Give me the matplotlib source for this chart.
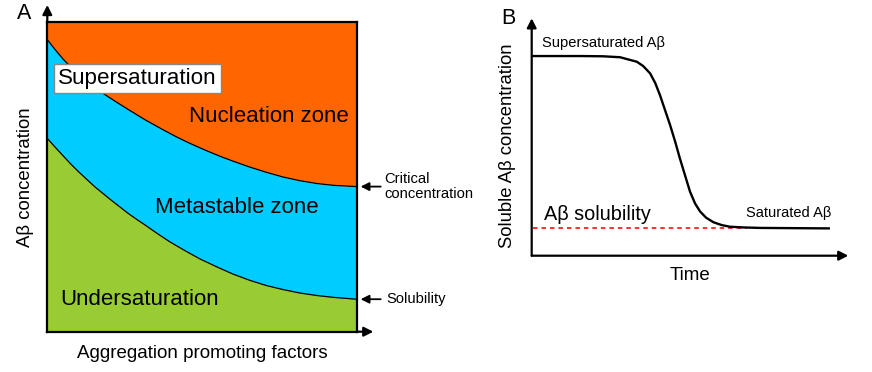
import matplotlib
matplotlib.use("Agg")
import matplotlib.pyplot as plt

plt.rcParams['font.family'] = ['Liberation Sans', 'DejaVu Sans']

W, H = 872, 372

# Panel A: boundary curves (normalised axis units)
crit_x = [0.0, 0.025, 0.052, 0.106, 0.176, 0.219, 0.262, 0.316, 0.370, 0.413, 0.456,
          0.510, 0.556, 0.601, 0.655, 0.709, 0.762, 0.817, 0.871, 0.925, 1.0]
crit_y = [0.944, 0.912, 0.880, 0.825, 0.773, 0.745, 0.718, 0.685, 0.655, 0.632, 0.611,
          0.587, 0.568, 0.551, 0.532, 0.515, 0.500, 0.488, 0.479, 0.473, 0.469]
sol_x = [0.0, 0.023, 0.047, 0.073, 0.100, 0.127, 0.154, 0.181, 0.208, 0.235, 0.262, 0.289,
         0.316, 0.356, 0.397, 0.445, 0.494, 0.547, 0.601, 0.655, 0.709, 0.763, 0.817,
         0.871, 0.925, 1.0]
sol_y = [0.625, 0.599, 0.573, 0.545, 0.518, 0.493, 0.468, 0.446, 0.424, 0.403, 0.382, 0.363,
         0.345, 0.317, 0.290, 0.262, 0.235, 0.210, 0.186, 0.166, 0.149, 0.136, 0.125,
         0.117, 0.111, 0.105]

# Panel B: soluble Abeta over time
time_x = [0.0, 0.153, 0.225, 0.279, 0.332, 0.352, 0.374, 0.390, 0.405, 0.421, 0.437, 0.453,
          0.468, 0.484, 0.500, 0.516, 0.532, 0.551, 0.574, 0.600, 0.626, 0.670, 0.721, 0.942]
conc_y = [0.841, 0.841, 0.840, 0.836, 0.817, 0.799, 0.768, 0.728, 0.677, 0.614, 0.551, 0.481,
          0.410, 0.340, 0.270, 0.220, 0.186, 0.160, 0.141, 0.129, 0.122, 0.119, 0.117, 0.115]
solubility_level = 0.115
solubility_x = [0.003, 0.68]

fig = plt.figure(figsize=(W / 100, H / 100), dpi=100)

def px_axes(x0, x1, ytop, ybot):
    return fig.add_axes([x0 / W, (H - ybot) / H, (x1 - x0) / W, (ybot - ytop) / H])

# ---------------- Panel A ----------------
axA = px_axes(47.3, 356.6, 22.3, 331.7)
axA.set_xlim(0, 1)
axA.set_ylim(0, 1)
axA.fill_between(crit_x, crit_y, 1, color='#FF6600', lw=0, zorder=0)
axA.fill_between(crit_x, 0, crit_y, color='#00CCFF', lw=0, zorder=0)
axA.fill_between(sol_x, 0, sol_y, color='#99CC33', lw=0, zorder=1)
axA.plot(crit_x, crit_y, color='black', lw=0.9, zorder=2)
axA.plot(sol_x, sol_y, color='black', lw=0.9, zorder=2)
axA.set_xticks([])
axA.set_yticks([])
for s in axA.spines.values():
    s.set_linewidth(1.6)
    s.set_color('black')
    s.set_zorder(3)

arrow_kw = dict(arrowstyle='-|>,head_length=0.55,head_width=0.28', color='black', lw=1.6,
                shrinkA=0, shrinkB=0)
axA.annotate('', xy=(0, (331.7 - 5) / 309.4), xytext=(0, 1), xycoords='axes fraction',
             arrowprops=arrow_kw, annotation_clip=False)
axA.annotate('', xy=((373.3 - 47.3) / 309.3, 0), xytext=(1, 0), xycoords='axes fraction',
             arrowprops=arrow_kw, annotation_clip=False)

small_arrow = dict(arrowstyle='-|>,head_length=0.5,head_width=0.25', color='black', lw=1.3,
                   shrinkA=0, shrinkB=0)
for yv in (crit_y[-1], sol_y[-1]):
    axA.annotate('', xy=(1.013, yv), xytext=(1.078, yv), xycoords=('axes fraction', 'data'),
                 arrowprops=small_arrow, annotation_clip=False)

axA.text(0.035, 0.818, 'Supersaturation', fontsize=16.1, ha='left', va='center', zorder=5,
         bbox=dict(boxstyle='square,pad=0.17', fc='white', ec='#888888', lw=1))
axA.text(0.715, 0.695, 'Nucleation zone', fontsize=16, ha='center', va='center', zorder=5)
axA.text(0.612, 0.403, 'Metastable zone', fontsize=16, ha='center', va='center', zorder=5)
axA.text(0.297, 0.105, 'Undersaturation', fontsize=16, ha='center', va='center', zorder=5)

fig.text(384.3 / W, 1 - 186.5 / H, 'Critical\nconcentration', fontsize=10.6, ha='left',
         va='center', linespacing=1.15)
fig.text(386.7 / W, 1 - 299 / H, 'Solubility', fontsize=10.6, ha='left', va='center')

fig.text(24 / W, 1 - 13.5 / H, 'A', fontsize=15.5, ha='center', va='center')
fig.text(25 / W, 1 - 177 / H, 'Aβ concentration', fontsize=13.4, ha='center', va='center',
         rotation=90)
fig.text(202.5 / W, 1 - 353 / H, 'Aggregation promoting factors', fontsize=13.5,
         ha='center', va='center')

# ---------------- Panel B ----------------
axB = px_axes(531.7, 848.3, 18.3, 255.7)
axB.set_xlim(0, 1)
axB.set_ylim(0, 1)
for k in ('top', 'right', 'left', 'bottom'):
    axB.spines[k].set_visible(False)
axB.set_xticks([])
axB.set_yticks([])
axB.patch.set_alpha(0)
axB.annotate('', xy=(0, 1), xytext=(0, 0), xycoords='axes fraction',
             arrowprops=arrow_kw, annotation_clip=False)
axB.annotate('', xy=(1, 0), xytext=(0, 0), xycoords='axes fraction',
             arrowprops=arrow_kw, annotation_clip=False)
axB.plot(solubility_x, [solubility_level] * 2, color='#FF2020', lw=1.3,
         linestyle=(0, (2.5, 2.2)), zorder=1)
axB.plot(time_x, conc_y, color='black', lw=1.7, zorder=2, solid_capstyle='butt',
         solid_joinstyle='round')

fig.text(541.7 / W, 1 - 43.3 / H, 'Supersaturated Aβ', fontsize=10.6, ha='left', va='center')
fig.text(789 / W, 1 - 212.7 / H, 'Saturated Aβ', fontsize=10.5, ha='center', va='center')
fig.text(544 / W, 1 - 214 / H, 'Aβ solubility', fontsize=14.3, ha='left', va='center')
fig.text(508 / W, 1 - 146 / H, 'Soluble Aβ concentration', fontsize=13.3, ha='center',
         va='center', rotation=90)
fig.text(690 / W, 1 - 275 / H, 'Time', fontsize=13.5, ha='center', va='center')
fig.text(508.5 / W, 1 - 19 / H, 'B', fontsize=15.5, ha='center', va='center')

fig.savefig('out.png', dpi=100)
